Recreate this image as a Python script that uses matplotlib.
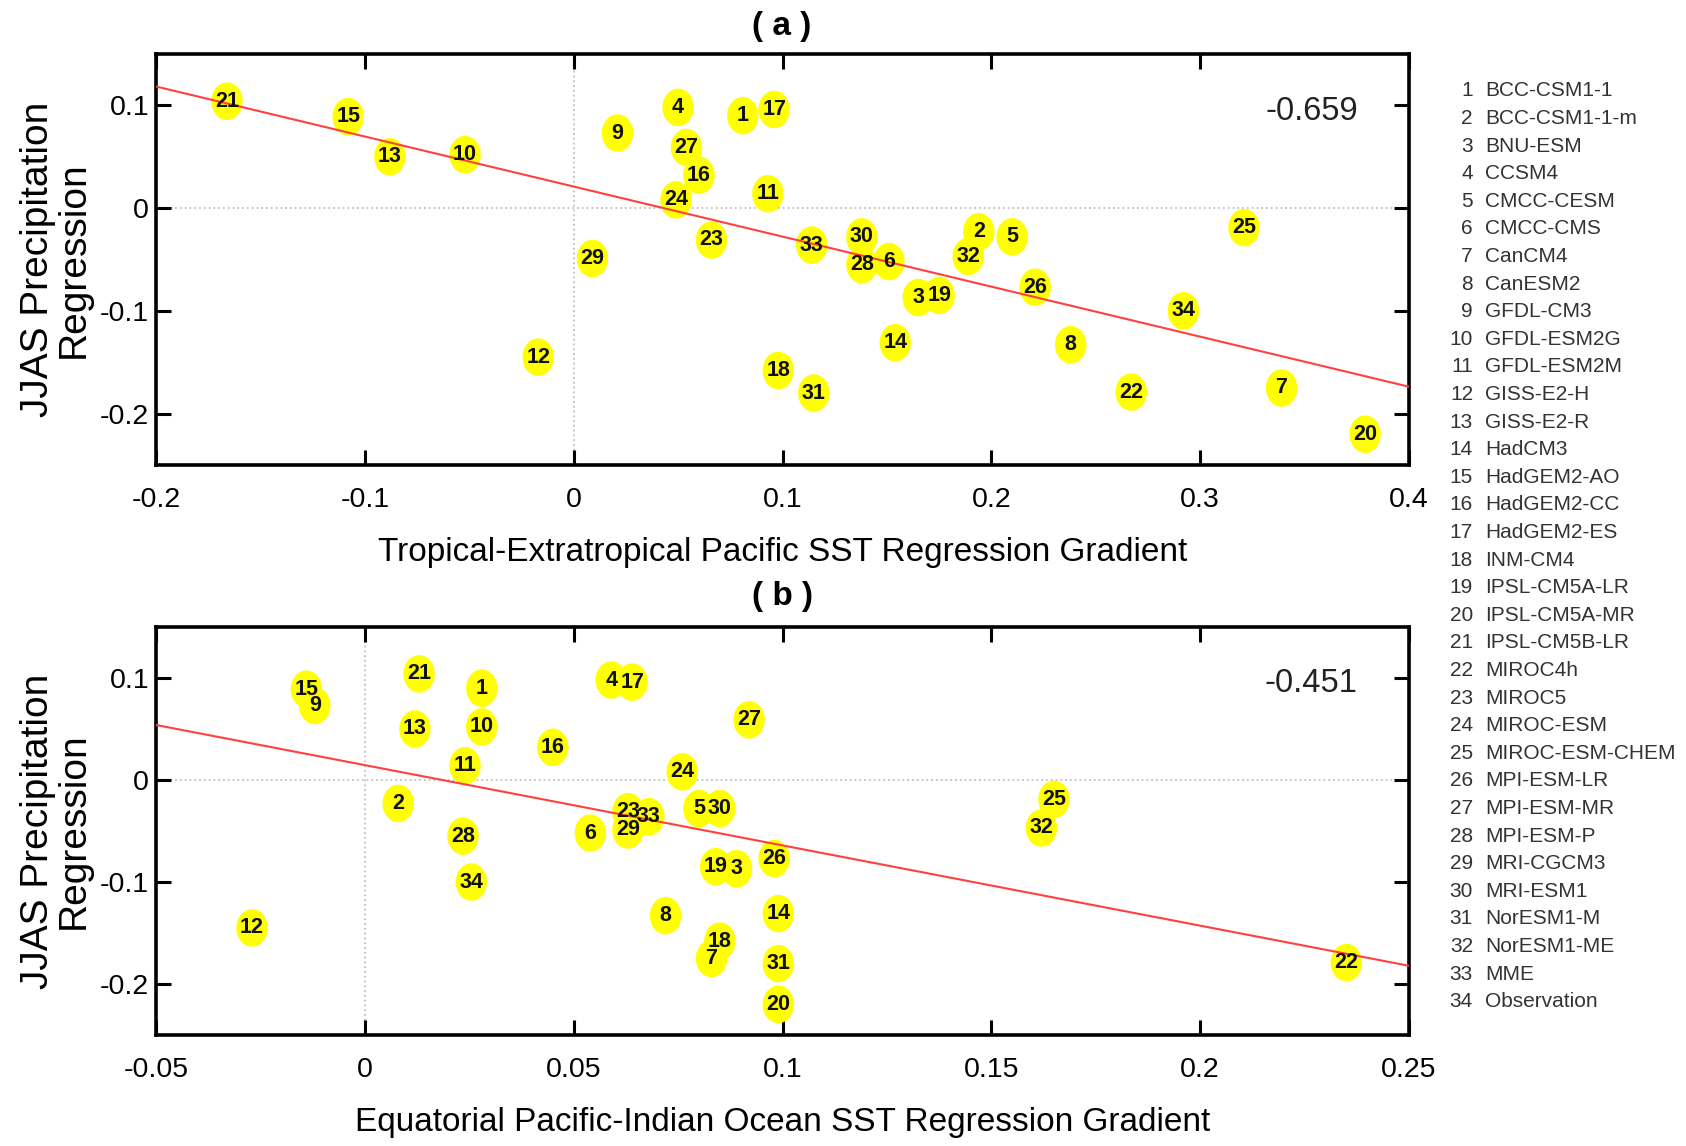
import numpy as np
import matplotlib
matplotlib.use("Agg")
import matplotlib.pyplot as plt

# model numbers and names (legend on the right)
model_ids = list(range(1, 35))
model_names = ["BCC-CSM1-1", "BCC-CSM1-1-m", "BNU-ESM", "CCSM4", "CMCC-CESM",
               "CMCC-CMS", "CanCM4", "CanESM2", "GFDL-CM3", "GFDL-ESM2G",
               "GFDL-ESM2M", "GISS-E2-H", "GISS-E2-R", "HadCM3", "HadGEM2-AO",
               "HadGEM2-CC", "HadGEM2-ES", "INM-CM4", "IPSL-CM5A-LR", "IPSL-CM5A-MR",
               "IPSL-CM5B-LR", "MIROC4h", "MIROC5", "MIROC-ESM", "MIROC-ESM-CHEM",
               "MPI-ESM-LR", "MPI-ESM-MR", "MPI-ESM-P", "MRI-CGCM3", "MRI-ESM1",
               "NorESM1-M", "NorESM1-ME", "MME", "Observation"]

# JJAS precipitation regression (same y for both panels)
jjas_precip = [0.090, -0.023, -0.087, 0.098, -0.028, -0.052, -0.175, -0.133, 0.073, 0.052,
               0.014, -0.145, 0.050, -0.131, 0.089, 0.032, 0.096, -0.158, -0.085, -0.220,
               0.104, -0.179, -0.031, 0.008, -0.019, -0.077, 0.059, -0.055, -0.049, -0.028,
               -0.180, -0.047, -0.036, -0.100]

# (a) tropical-extratropical Pacific SST regression gradient
grad_trop = [0.081, 0.194, 0.165, 0.050, 0.210, 0.151, 0.339, 0.238, 0.021, -0.052,
             0.093, -0.017, -0.088, 0.154, -0.108, 0.060, 0.096, 0.098, 0.175, 0.379,
             -0.166, 0.267, 0.066, 0.049, 0.321, 0.221, 0.054, 0.138, 0.009, 0.138,
             0.115, 0.189, 0.114, 0.292]

# (b) equatorial Pacific-Indian Ocean SST regression gradient
grad_eq = [0.028, 0.008, 0.089, 0.059, 0.080, 0.054, 0.083, 0.072, -0.012, 0.028,
           0.024, -0.027, 0.012, 0.099, -0.014, 0.045, 0.064, 0.085, 0.084, 0.099,
           0.013, 0.235, 0.063, 0.076, 0.165, 0.098, 0.092, 0.0235, 0.063, 0.085,
           0.099, 0.162, 0.068, 0.0255]

# regression lines (slope, intercept) and correlations
fit_a = (-0.487, 0.021)
fit_b = (-0.787, 0.0146)
corr_a = "-0.659"
corr_b = "-0.451"

xticks_a = [-0.2, -0.1, 0, 0.1, 0.2, 0.3, 0.4]
xticks_b = [-0.05, 0, 0.05, 0.1, 0.15, 0.2, 0.25]
yticks = [-0.2, -0.1, 0, 0.1]

plt.rcParams["font.family"] = ["Liberation Sans", "DejaVu Sans"]

W, H = 1686, 1146
fig = plt.figure(figsize=(W / 100, H / 100), dpi=100)

# vertical ellipse marker
t = np.linspace(0, 2 * np.pi, 80)
ellipse = np.column_stack([np.cos(t) * 31 / 37, np.sin(t)])


def panel(ax, xs, xticks, fit, corr, xlabel):
    ax.set_xlim(xticks[0], xticks[-1])
    ax.set_ylim(-0.25, 0.15)
    ax.axhline(0, color="#c0c0c0", ls=":", lw=1.3, zorder=1)
    ax.axvline(0, color="#c0c0c0", ls=":", lw=1.3, zorder=1)
    ax.scatter(xs, jjas_precip, s=27 ** 2, marker=ellipse, color="#ffff00",
               edgecolors="none", zorder=2)
    lx = np.array([xticks[0], xticks[-1]])
    ax.plot(lx, fit[0] * lx + fit[1], color="#ff4040", lw=1.5, zorder=3)
    for i, x, y in zip(model_ids, xs, jjas_precip):
        ax.text(x, y, str(i), ha="center", va="center", fontsize=15.5,
                fontweight="bold", color="#111111", zorder=4)
    ax.text(0.959, 0.861, corr, transform=ax.transAxes, ha="right", va="center",
            fontsize=23.5, color="#222222")
    ax.set_xticks(xticks)
    ax.set_xticklabels(["%g" % v for v in xticks])
    ax.set_yticks(yticks)
    ax.set_yticklabels(["%g" % v for v in yticks])
    ax.tick_params(direction="in", length=11, width=2.2, top=True, right=True,
                   labelsize=20.5)
    ax.tick_params(axis="x", pad=16)
    ax.tick_params(axis="y", pad=5)
    for sp in ax.spines.values():
        sp.set_linewidth(2.6)
    ax.set_xlabel(xlabel, fontsize=24, labelpad=17)
    ax.set_ylabel("JJAS Precipitation\nRegression", fontsize=28, labelpad=6,
                  linespacing=1.0)


ax_a = fig.add_axes([156 / W, 1 - 465 / H, 1253 / W, 411 / H])
ax_b = fig.add_axes([156 / W, 1 - 1035 / H, 1253 / W, 408 / H])
panel(ax_a, grad_trop, xticks_a, fit_a, corr_a,
      "Tropical-Extratropical Pacific SST Regression Gradient")
panel(ax_b, grad_eq, xticks_b, fit_b, corr_b,
      "Equatorial Pacific-Indian Ocean SST Regression Gradient")

fig.text(782 / W, 1 - 26 / H, "( a )", ha="center", va="center",
         fontsize=24, fontweight="bold")
fig.text(782 / W, 1 - 597 / H, "( b )", ha="center", va="center",
         fontsize=24, fontweight="bold")

# model list on the right
for j, (i, name) in enumerate(zip(model_ids, model_names)):
    yy = 1 - (91 + j * 27.6) / H
    fig.text(1473 / W, yy, str(i), ha="right", va="center",
             fontsize=15, color="#333333")
    fig.text(1485 / W, yy, name, ha="left", va="center",
             fontsize=15, color="#333333")

fig.savefig("out.png", dpi=100)
